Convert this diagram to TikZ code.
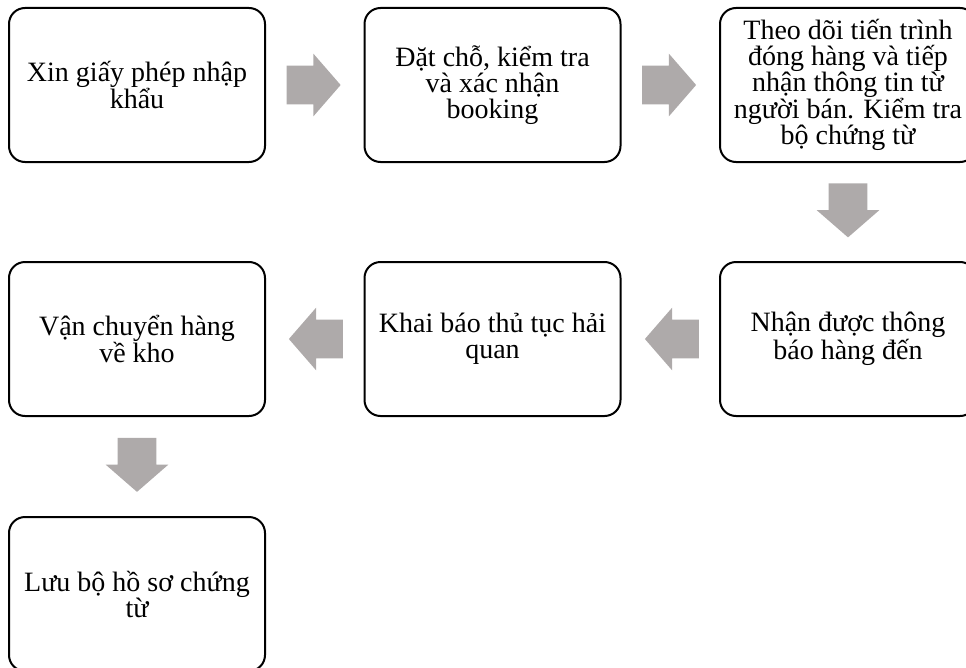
\documentclass[tikz,border=0pt]{standalone}
\usepackage{fontspec}
\setmainfont{Liberation Serif}
\usetikzlibrary{shapes.arrows,calc}
\definecolor{flowgray}{HTML}{AEAAAA}
\begin{document}
\begin{tikzpicture}[x=0.75pt,y=-0.75pt]
	\tikzset{
		stage/.style={draw, line width=1.5pt, rounded corners=12pt, fill=white,
			minimum width=192pt, minimum height=115.5pt, align=center, inner sep=0pt,
			font=\fontsize{21}{19.5}\selectfont},
		flow/.style={single arrow, fill=flowgray, draw=none, inner xsep=0pt, inner ysep=14.25pt,
			minimum height=40.5pt,
			single arrow head extend=9pt, single arrow tip angle=98},
		flowdown/.style={flow, inner xsep=14.25pt, inner ysep=0pt, shape border rotate=270},
	}
	\useasboundingbox (0,0) rectangle (966,667);

	\node[stage] (licence) at (137,85) {Xin giấy phép nhập\\khẩu};
	\node[stage] (booking) at (492.5,85) {Đặt chỗ, kiểm tra\\và xác nhận\\booking};
	\node[stage] (track) at (848,85) {Theo dõi tiến trình\\đóng hàng và tiếp\\nhận thông tin từ\\người bán. Kiểm tra\\bộ chứng từ};

	\node[stage] (notice) at (848,339) {Nhận được thông\\báo hàng đến};
	\node[stage] (customs) at (492.5,339) {Khai báo thủ tục hải\\quan};
	\node[stage] (transport) at (137,339) {Vận chuyển hàng\\về kho};

	\node[stage] (archive) at (137,594) {Lưu bộ hồ sơ chứng\\từ};

	\node[flow] at ($(licence.east)!0.5!(booking.west)+(-9.5,0)$) {};
	\node[flow] at ($(booking.east)!0.5!(track.west)+(-9.5,0)$) {};
	\node[flowdown] at ($(track.south)!0.5!(notice.north)+(0,-10)$) {};
	\node[flow, shape border rotate=180] at ($(notice.west)!0.5!(customs.east)+(10,0)$) {};
	\node[flow, shape border rotate=180] at ($(customs.west)!0.5!(transport.east)+(9.5,0)$) {};
	\node[flowdown] at ($(transport.south)!0.5!(archive.north)+(0,-10)$) {};

\end{tikzpicture}
\end{document}
